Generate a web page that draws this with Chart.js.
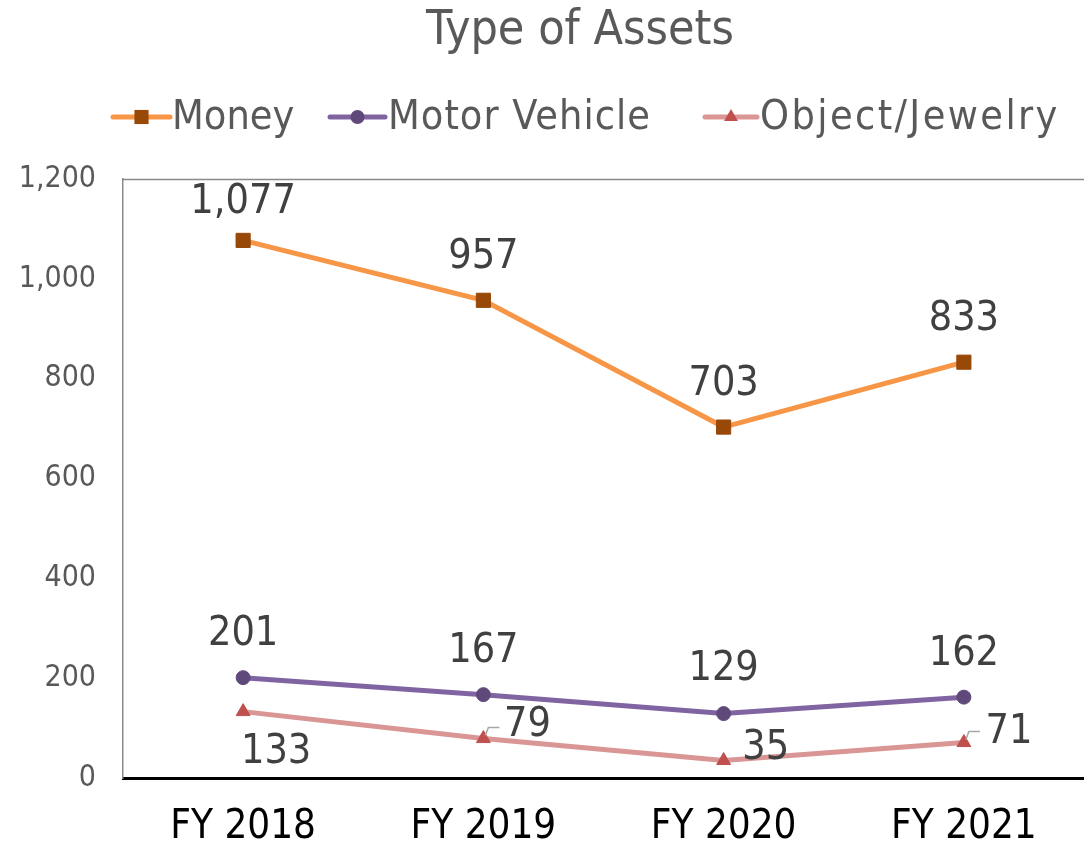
<!DOCTYPE html>
<html>
<head>
<meta charset="utf-8">
<script src="https://cdn.jsdelivr.net/npm/chart.js@4.4.1/dist/chart.umd.min.js"></script>
<style>
html,body{margin:0;padding:0;background:#fff;}
#wrap{width:1084px;height:851px;position:relative;}
</style>
</head>
<body>
<div id="wrap"><canvas id="c" width="1084" height="851"></canvas></div>
<script>
const chartTitle = "Type of Assets";
const categories = ["FY 2018", "FY 2019", "FY 2020", "FY 2021"];
const seriesNames = ["Money", "Motor Vehicle", "Object/Jewelry"];
const money = [1077, 957, 703, 833];
const motorVehicle = [201, 167, 129, 162];
const objectJewelry = [133, 79, 35, 71];
const yTicks = [0, 200, 400, 600, 800, 1000, 1200];

const FONT = '"DejaVu Sans Condensed", "DejaVu Sans", sans-serif';

// label placement (offsets in px relative to the point) - styling only
const labelOffsets = [
  [[0,-38],[0,-43],[0,-43],[0,-43]],
  [[0,-43],[0,-43],[0,-44],[0,-43]],
  [[33,41],[44,-13],[42,-12],[45,-10]]
];

const lineColors = ["#F79646", "#8064A2", "#D99694"];
const markerColors = ["#984807", "#5F497A", "#C0504D"];
const markerStyles = ["rect", "circle", "triangle"];
const markerRadius = [10, 7, 8];

const fmt = v => v.toLocaleString('en-US');

const overlay = {
  id: 'overlay',
  afterDraw(chart) {
    const ctx = chart.ctx;
    const ca = chart.chartArea;
    ctx.save();
    // top border of plot area
    ctx.strokeStyle = '#898989';
    ctx.lineWidth = 1.5;
    ctx.beginPath();
    ctx.moveTo(ca.left, ca.top + 0.5);
    ctx.lineTo(chart.width, ca.top + 0.5);
    ctx.stroke();

    // title
    ctx.fillStyle = '#595959';
    ctx.font = '48px ' + FONT;
    ctx.textAlign = 'center';
    ctx.textBaseline = 'middle';
    ctx.fillText(chartTitle, 580, 32);

    // legend
    const legendItems = [
      {x0: 113, x1: 170, tx: 172, sp: 0},
      {x0: 330, x1: 385, tx: 388, sp: 1},
      {x0: 705, x1: 757, tx: 760, sp: 2.4}
    ];
    const ly = 117;
    ctx.font = '41px ' + FONT;
    ctx.textAlign = 'left';
    legendItems.forEach((it, i) => {
      ctx.strokeStyle = lineColors[i];
      ctx.lineWidth = 5;
      ctx.lineCap = 'round';
      ctx.beginPath();
      ctx.moveTo(it.x0, ly);
      ctx.lineTo(it.x1, ly);
      ctx.stroke();
      ctx.fillStyle = markerColors[i];
      Chart.helpers.drawPoint(ctx, {pointStyle: markerStyles[i], radius: markerRadius[i], borderWidth: 0}, (it.x0 + it.x1) / 2, ly);
      ctx.fillStyle = '#595959';
      ctx.letterSpacing = it.sp + 'px';
      ctx.fillText(seriesNames[i], it.tx, ly + 1);
      ctx.letterSpacing = '0px';
    });

    // data labels and leader lines
    ctx.font = '41px ' + FONT;
    ctx.textAlign = 'center';
    ctx.textBaseline = 'middle';
    chart.data.datasets.forEach((ds, di) => {
      const meta = chart.getDatasetMeta(di);
      meta.data.forEach((pt, pi) => {
        const off = labelOffsets[di][pi];
        const lx = pt.x + off[0];
        const lyy = pt.y + off[1];
        if (di === 2 && pi > 0 && pi !== 2) {
          ctx.strokeStyle = '#A6A6A6';
          ctx.lineWidth = 1.5;
          ctx.lineCap = 'butt';
          ctx.beginPath();
          ctx.moveTo(pt.x + 2, pt.y - 3);
          ctx.lineTo(pt.x + 5, pt.y - 11);
          ctx.lineTo(pt.x + 16, pt.y - 11);
          ctx.stroke();
        }
        ctx.fillStyle = '#404040';
        ctx.fillText(fmt(ds.data[pi]), lx, lyy);
      });
    });
    ctx.restore();
  }
};

const seriesData = [money, motorVehicle, objectJewelry];

new Chart(document.getElementById('c'), {
  type: 'line',
  data: {
    labels: categories,
    datasets: seriesData.map((d, i) => ({
      label: seriesNames[i],
      data: d,
      borderColor: lineColors[i],
      borderWidth: 5,
      pointStyle: markerStyles[i],
      pointRadius: markerRadius[i],
      pointBackgroundColor: markerColors[i],
      pointBorderColor: markerColors[i],
      pointBorderWidth: 1,
      tension: 0,
      clip: false
    }))
  },
  options: {
    responsive: false,
    animation: false,
    layout: {autoPadding: false, padding: {top: 179, right: -4, left: 0, bottom: 0}},
    plugins: {legend: {display: false}, title: {display: false}, tooltip: {enabled: false}},
    scales: {
      x: {
        offset: true,
        grid: {display: false, drawTicks: false},
        border: {display: true, color: '#000000', width: 3},
        ticks: {color: '#000000', font: {family: FONT, size: 40}, padding: 26, maxRotation: 0},
        afterFit(s) { s.height = 73; s.paddingLeft = 0; s.paddingRight = 0; }
      },
      y: {
        min: 0, max: 1200,
        afterBuildTicks(s) { s.ticks = yTicks.map(v => ({value: v})); },
        grid: {display: false, drawTicks: false},
        border: {display: true, color: '#898989', width: 1.5},
        ticks: {color: '#595959', font: {family: FONT, size: 30}, padding: 27,
                callback: v => fmt(v)},
        afterFit(s) { s.width = 123; }
      }
    }
  },
  plugins: [overlay]
});
</script>
</body>
</html>
